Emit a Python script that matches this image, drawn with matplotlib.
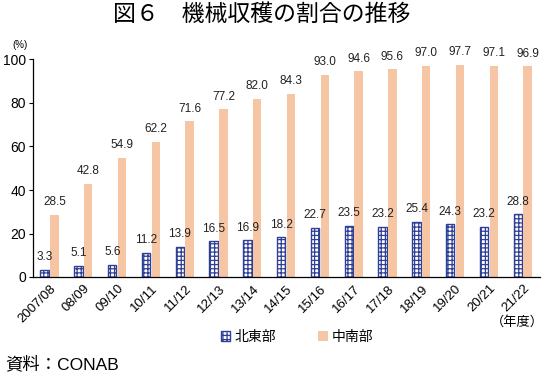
import matplotlib.pyplot as plt
import numpy as np

plt.rcParams['font.family'] = ['Liberation Sans', 'Noto Sans CJK JP', 'DejaVu Sans']
plt.rcParams['hatch.linewidth'] = 0.9

categories = ["2007/08", "08/09", "09/10", "10/11", "11/12", "12/13", "13/14", "14/15",
              "15/16", "16/17", "17/18", "18/19", "19/20", "20/21", "21/22"]
northeast = [3.3, 5.1, 5.6, 11.2, 13.9, 16.5, 16.9, 18.2, 22.7, 23.5, 23.2, 25.4, 24.3, 23.2, 28.8]
center_south = [28.5, 42.8, 54.9, 62.2, 71.6, 77.2, 82.0, 84.3, 93.0, 94.6, 95.6, 97.0, 97.7, 97.1, 96.9]
yticks = [0, 20, 40, 60, 80, 100]

BLUE = "#2e3f96"
ORANGE = "#f6c5a4"
CJK = ['Noto Sans CJK JP', 'DejaVu Sans']

fig = plt.figure(figsize=(5.45, 3.73), dpi=100)
ax = fig.add_axes([33 / 545, 1 - 277 / 373, 507 / 545, 217.5 / 373])

x = np.arange(len(categories))
w = 0.25
b1 = ax.bar(x - 0.155, northeast, w, facecolor="white", edgecolor=BLUE, hatch="++++",
            linewidth=1.0, label="北東部")
b2 = ax.bar(x + 0.135, center_south, w, color=ORANGE, linewidth=0, label="中南部")

# value labels above each bar
for xi, v in zip(x, northeast):
    ax.text(xi - 0.155, v + 3, f"{v:.1f}", ha="center", va="bottom", fontsize=8.5, color="#222222")
for xi, v in zip(x, center_south):
    ax.text(xi + 0.135, v + 3, f"{v:.1f}", ha="center", va="bottom", fontsize=8.5, color="#222222")

ax.set_xlim(-0.5, len(categories) - 0.5)
ax.set_ylim(0, 100)
ax.set_yticks(yticks)
ax.tick_params(axis="y", labelsize=10, length=3, width=0.8, direction="out", pad=2)
ax.set_xticks(x)
ax.set_xticklabels(categories, rotation=45, ha="right", rotation_mode="anchor", fontsize=9.5)
ax.tick_params(axis="x", length=0, pad=4)
ax.spines["top"].set_visible(False)
ax.spines["right"].set_visible(False)
ax.spines["left"].set_linewidth(0.9)
ax.spines["bottom"].set_linewidth(0.9)

fig.text(262 / 545, 1 - 14 / 373, "図６　機械収穫の割合の推移", ha="center", va="center",
         fontsize=16.5, family=CJK)
fig.text(20 / 545, 1 - 45 / 373, "(%)", ha="center", va="center", fontsize=7)
fig.text(544 / 545, 1 - 322 / 373, "（年度）", ha="right", va="center", fontsize=9.5, family=CJK)
fig.text(5 / 545, 1 - 364 / 373, "資料：CONAB", ha="left", va="center", fontsize=12.5)

leg = fig.legend(handles=[b1, b2], loc="center", bbox_to_anchor=(297 / 545, 1 - 337 / 373), ncol=2,
                 frameon=False, fontsize=10, handlelength=0.7, handleheight=0.7, handletextpad=0.3,
                 columnspacing=3.0, prop={'family': CJK, 'size': 10})

fig.savefig("out.png", dpi=100)
